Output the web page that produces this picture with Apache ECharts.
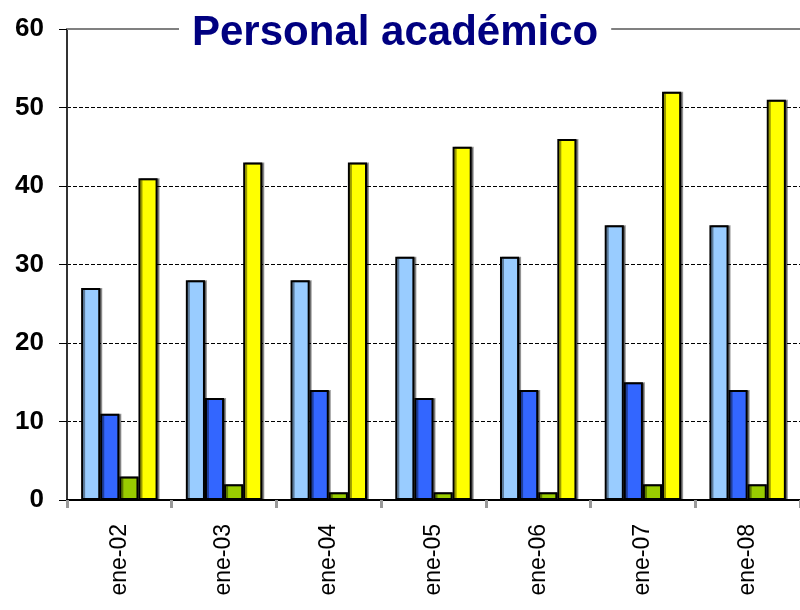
<!DOCTYPE html>
<html>
<head>
<meta charset="utf-8">
<script src="https://cdn.jsdelivr.net/npm/echarts@6/dist/echarts.min.js"></script>
<style>html,body{margin:0;padding:0;background:#fff}#c{width:800px;height:610px}</style>
</head>
<body>
<div id="c"></div>
<script>
var categories = ['ene-02','ene-03','ene-04','ene-05','ene-06','ene-07','ene-08'];
var serieA = [27, 28, 28, 31, 31, 35, 35];
var serieB = [11, 13, 14, 13, 14, 15, 14];
var serieC = [3, 2, 1, 1, 1, 2, 2];
var serieD = [41, 43, 43, 45, 46, 52, 51];
var yTicks = [0, 10, 20, 30, 40, 50, 60];

var colors = ['#99CCFF', '#3366FF', '#99CC00', '#FFFF00'];
var FONT = '"Liberation Sans", Arial, sans-serif';

function mk(name, data, color) {
  return {
    name: name,
    type: 'bar',
    data: data,
    barGap: '0%',
    barCategoryGap: '27%',
    itemStyle: {
      color: color,
      borderColor: '#000',
      borderWidth: 2,
      shadowColor: 'rgba(0,0,0,0.4)',
      shadowOffsetX: 2,
      shadowOffsetY: 0,
      shadowBlur: 0
    }
  };
}

var chart = echarts.init(document.getElementById('c'), null, {renderer: 'canvas'});
chart.setOption({
  animation: false,
  backgroundColor: '#fff',
  title: {
    text: 'Personal académico',
    left: 179,
    top: 10,
    padding: [2, 13, 2, 13],
    backgroundColor: '#fff',
    textStyle: {
      fontFamily: FONT,
      fontSize: 42,
      fontWeight: 'bold',
      color: '#000080'
    },
    z: 20
  },
  grid: {left: 67, right: -2, top: 29, bottom: 110, containLabel: false},
  xAxis: [{
    type: 'category',
    data: categories,
    position: 'bottom',
    axisLine: {lineStyle: {color: '#000', width: 2}},
    axisTick: {show: true, length: 8, lineStyle: {color: '#999', width: 3}},
    axisLabel: {rotate: 90, fontFamily: FONT, fontSize: 23, color: '#000', margin: 24},
    splitLine: {show: false}
  }, {
    type: 'category',
    data: categories,
    position: 'top',
    axisLine: {lineStyle: {color: '#808080', width: 2}},
    axisTick: {show: false},
    axisLabel: {show: false},
    splitLine: {show: false}
  }],
  yAxis: {
    type: 'value',
    min: yTicks[0],
    max: yTicks[yTicks.length - 1],
    interval: 10,
    axisLine: {show: true, lineStyle: {color: '#333', width: 2}},
    axisTick: {show: true, length: 8, lineStyle: {color: '#000', width: 1}},
    axisLabel: {fontFamily: FONT, fontSize: 26, fontWeight: 'bold', color: '#000', margin: 23},
    splitLine: {
      show: true,
      showMinLine: false,
      showMaxLine: false,
      lineStyle: {color: '#000', type: [4, 2], width: 1}
    }
  },
  series: [
    mk('A', serieA, colors[0]),
    mk('B', serieB, colors[1]),
    mk('C', serieC, colors[2]),
    mk('D', serieD, colors[3])
  ]
});
</script>
</body>
</html>
